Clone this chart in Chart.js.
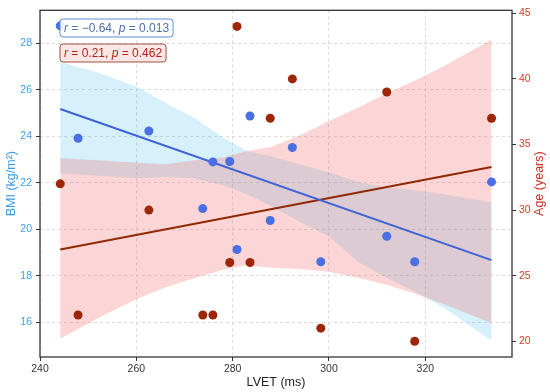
<!DOCTYPE html>
<html>
<head>
<meta charset="utf-8">
<script src="https://cdn.jsdelivr.net/npm/chart.js@4.4.0/dist/chart.umd.min.js"></script>
<style>
  html, body { margin: 0; padding: 0; background: #fff; }
  #wrap { width: 550px; height: 392px; position: relative; }
</style>
</head>
<body>
<div id="wrap"><canvas id="chart"></canvas></div>
<script>
// observed values
const lvet = [244.2, 247.9, 262.6, 273.8, 275.9, 279.4, 280.9, 283.6, 287.8, 292.4, 298.3, 312.0, 317.8, 333.75];
const bmi  = [28.76, 23.92, 24.23, 20.89, 22.9, 22.92, 19.13, 24.88, 20.38, 23.52, 18.6, 19.7, 18.6, 22.04];
const age  = [32, 22, 30, 22, 22, 26, 44, 26, 37, 40, 21, 39, 20, 37];

// regression lines (end points)
const fitX   = [244.2, 333.75];
const bmiFit = [25.18, 18.67];
const ageFit = [27.0, 33.29];

// confidence bands
const bandX    = [244.2, 252, 260, 266, 272, 278, 283, 288, 294, 300, 306, 312, 318, 324, 333.75];
const bmiUpper = [27.2, 26.75, 26.15, 25.45, 24.8, 23.95, 23.37, 23.15, 22.8, 22.45, 22.05, 21.8, 21.68, 21.5, 21.15];
const bmiLower = [22.4, 22.3, 22.2, 22.25, 22.2, 21.9, 21.5, 21.0, 20.3, 19.7, 18.6, 17.9, 17.3, 16.6, 15.2];
const ageUpper = [33.96, 33.8, 33.6, 33.5, 33.8, 34.0, 34.5, 34.8, 35.7, 36.8, 37.8, 38.9, 39.9, 41.0, 43.0];
const ageLower = [20.2, 21.75, 23.2, 24.1, 24.8, 25.45, 25.8, 25.6, 25.5, 25.3, 24.85, 24.3, 23.6, 22.8, 21.4];

const xTicks   = [240, 260, 280, 300, 320];
const bmiTicks = [16, 18, 20, 22, 24, 26, 28];
const ageTicks = [20, 25, 30, 35, 40, 45];

// stat labels: even parts italic
const bmiStat = ['r', ' = \u22120.64, ', 'p', ' = 0.013'];
const ageStat = ['r', ' = 0.21, ', 'p', ' = 0.462'];

const FONT = '"Liberation Sans", Arial, sans-serif';

function pts(xs, ys) {
    return xs.map((x, i) => ({ x: x, y: ys[i] }));
}

function band(ys, axis, fill, color) {
    return {
        data: pts(bandX, ys),
        yAxisID: axis,
        showLine: true,
        borderWidth: 0,
        pointRadius: 0,
        fill: fill,
        backgroundColor: color
    };
}

function drawStat(ctx, parts, x, y, h, textColor, border, bg) {
    let w = 0;
    parts.forEach((p, i) => {
        ctx.font = (i % 2 === 0 ? 'italic ' : '') + '12px ' + FONT;
        w += ctx.measureText(p).width;
    });
    ctx.beginPath();
    ctx.roundRect(x, y, w + 8, h, 3);
    ctx.fillStyle = bg;
    ctx.fill();
    ctx.lineWidth = 1;
    ctx.strokeStyle = border;
    ctx.stroke();
    ctx.fillStyle = textColor;
    ctx.textBaseline = 'middle';
    ctx.textAlign = 'left';
    let cx = x + 4;
    parts.forEach((p, i) => {
        ctx.font = (i % 2 === 0 ? 'italic ' : '') + '12px ' + FONT;
        ctx.fillText(p, cx, y + h / 2 + 0.5);
        cx += ctx.measureText(p).width;
    });
}

const decorations = {
    id: 'decorations',
    afterDraw(chart) {
        const ctx = chart.ctx;
        const a = chart.chartArea;
        ctx.save();
        ctx.strokeStyle = '#333';
        ctx.lineWidth = 1.3;
        ctx.strokeRect(a.left, a.top, a.right - a.left, a.bottom - a.top);

        ctx.font = '12.5px ' + FONT;
        ctx.textAlign = 'center';
        ctx.textBaseline = 'middle';
        ctx.fillStyle = '#222';
        ctx.fillText('LVET (ms)', (a.left + a.right) / 2, 383);

        ctx.save();
        ctx.translate(12, (a.top + a.bottom) / 2);
        ctx.rotate(-Math.PI / 2);
        ctx.fillStyle = '#3a9be6';
        ctx.fillText('BMI (kg/m\u00b2)', 0, 0);
        ctx.restore();

        ctx.save();
        ctx.translate(540, (a.top + a.bottom) / 2);
        ctx.rotate(-Math.PI / 2);
        ctx.fillStyle = '#cc2e26';
        ctx.fillText('Age (years)', 0, 0);
        ctx.restore();

        drawStat(ctx, bmiStat, 60, 19, 18, '#4a6ea8', '#5b8fd8', 'rgba(255,255,255,0.9)');
        drawStat(ctx, ageStat, 60, 44, 18, '#b3241c', '#a0513a', '#fde6e6');
        ctx.restore();
    }
};

function initializeChart() {
    const ctx = document.getElementById('chart').getContext('2d');
    new Chart(ctx, {
        type: 'scatter',
        data: {
            datasets: [
                { data: pts(lvet, bmi), yAxisID: 'y', backgroundColor: '#4a6fe2', pointRadius: 4.5, borderWidth: 0 },
                { data: pts(lvet, age), yAxisID: 'y2', backgroundColor: '#9e2508', pointRadius: 4.5, borderWidth: 0 },
                { data: pts(fitX, bmiFit), yAxisID: 'y', showLine: true, borderColor: '#3f63d6', borderWidth: 2, pointRadius: 0 },
                { data: pts(fitX, ageFit), yAxisID: 'y2', showLine: true, borderColor: '#8f2a05', borderWidth: 2, pointRadius: 0 },
                band(ageUpper, 'y2', '+1', 'rgba(245,90,90,0.25)'),
                band(ageLower, 'y2', false, 'rgba(0,0,0,0)'),
                band(bmiUpper, 'y', '+1', 'rgba(30,170,240,0.18)'),
                band(bmiLower, 'y', false, 'rgba(0,0,0,0)')
            ]
        },
        options: {
            responsive: true,
            maintainAspectRatio: false,
            animation: false,
            layout: { padding: { top: 5, left: 0, right: 0, bottom: 0 } },
            plugins: {
                legend: { display: false },
                tooltip: { enabled: false }
            },
            scales: {
                x: {
                    type: 'linear',
                    min: 240,
                    max: 338,
                    afterBuildTicks: s => { s.ticks = xTicks.map(v => ({ value: v })); },
                    afterFit: s => { s.height = 35; },
                    grid: { color: '#dadada', lineWidth: 1, tickColor: '#333', tickLength: 4 },
                    border: { display: false, dash: [3, 3] },
                    ticks: { color: '#333', font: { size: 10.5, family: FONT }, padding: 2, maxRotation: 0 }
                },
                y: {
                    position: 'left',
                    min: 14.5,
                    max: 29.43,
                    afterBuildTicks: s => { s.ticks = bmiTicks.map(v => ({ value: v })); },
                    afterFit: s => { s.width = 40; },
                    grid: { color: '#dadada', lineWidth: 1, tickColor: '#333', tickLength: 4 },
                    border: { display: false, dash: [3, 3] },
                    ticks: { color: '#3f9fee', font: { size: 10.5, family: FONT }, padding: 4 }
                },
                y2: {
                    position: 'right',
                    min: 18.8,
                    max: 45.23,
                    afterBuildTicks: s => { s.ticks = ageTicks.map(v => ({ value: v })); },
                    afterFit: s => { s.width = 38; },
                    grid: { drawOnChartArea: false, tickColor: '#333', tickLength: 4 },
                    border: { display: false },
                    ticks: { color: '#d23c2a', font: { size: 10.5, family: FONT }, padding: 3 }
                }
            }
        },
        plugins: [decorations]
    });
}

document.addEventListener('DOMContentLoaded', initializeChart);
</script>
</body>
</html>
